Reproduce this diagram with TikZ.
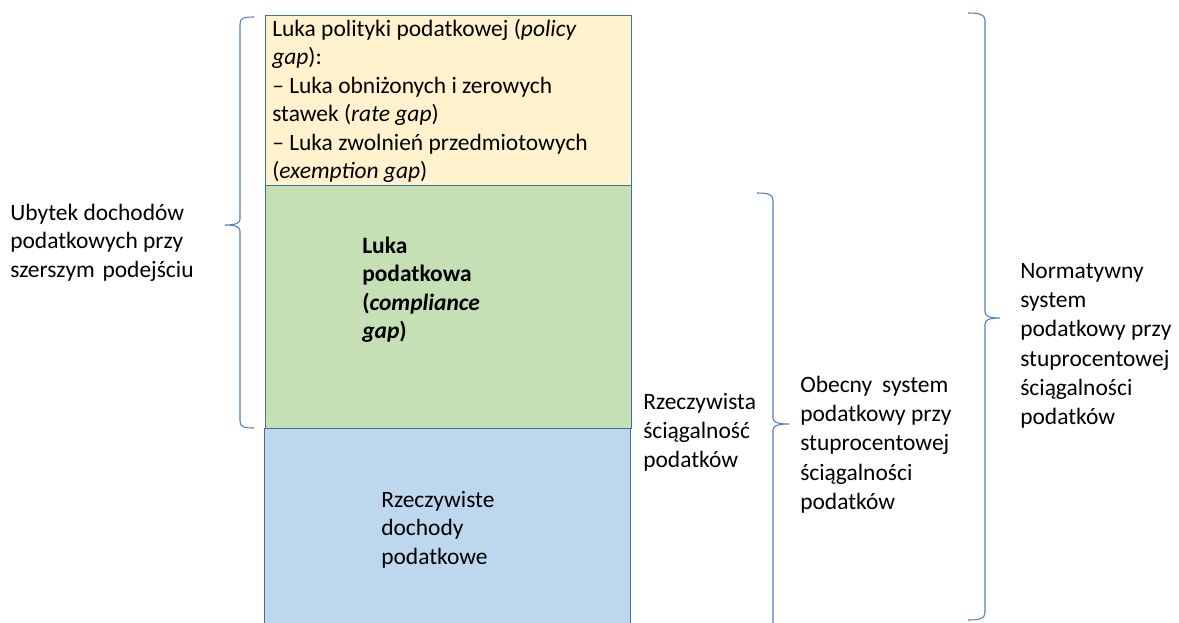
\documentclass[tikz,border=0pt]{standalone}
\usepackage{fontspec}
\setmainfont{Carlito}
\definecolor{ylw}{RGB}{255,242,204}
\definecolor{grn}{RGB}{197,224,180}
\definecolor{blu}{RGB}{189,215,238}
\definecolor{edge}{RGB}{65,113,156}
\definecolor{brc}{RGB}{82,125,200}
\newcommand{\topstrut}{\rule{0pt}{15pt}}
\begin{document}
\begin{tikzpicture}[x=0.75pt,y=-0.75pt,
  box/.style={draw=edge,line width=0.8pt,anchor=north west,inner sep=0pt,minimum width=274.5pt},
  lbl/.style={anchor=north west,inner sep=0pt,align=left,font=\fontsize{17.6}{21.4}\selectfont},
  lblr/.style={lbl,font=\fontsize{17.6}{22}\selectfont},
  brace/.style={draw=brc,line width=0.8pt}]
\useasboundingbox (0,0) rectangle (1179,622);
\fill[white] (0,0) rectangle (1179,622);
% boxes
\node[box,fill=blu,minimum height=147pt] (real) at (264,428) {};
\node[box,fill=grn,minimum height=182.25pt] (comp) at (265,185) {};
\node[box,fill=ylw,minimum height=127.5pt] (policy) at (265,15) {};
% texts inside boxes
\node[lbl] (policytxt) at (272,16) {\topstrut Luka polityki podatkowej (\textit{policy}\\\textit{gap}):\\– Luka obniżonych i zerowych\\stawek (\textit{rate gap})\\– Luka zwolnień przedmiotowych\\(\textit{exemption gap})};
\node[lbl,font=\bfseries\fontsize{17.6}{21.3}\selectfont] (comptxt) at (362,233) {\topstrut Luka\\podatkowa\\(\textit{compliance}\\\textit{gap})};
\node[lbl] (realtxt) at (381,487) {\topstrut Rzeczywiste\\dochody\\podatkowe};
% side texts
\node[lbl] (ubytek) at (10,200) {\topstrut Ubytek dochodów\\podatkowych przy\\szerszym\hspace{0.1em} podejściu};
\node[lblr] (rzecz) at (643,389) {\topstrut Rzeczywista\\ściągalność\\podatków};
\node[lblr] (obecny) at (800,372) {\topstrut Obecny\hspace{0.2em} system\\podatkowy przy\\stuprocentowej\\ściągalności\\podatków};
\node[lblr] (norm) at (1020,258) {\topstrut Normatywny\\system\\podatkowy przy\\stuprocentowej\\ściągalności\\podatków};
% left brace
\coordinate (lt) at (254,17);
\coordinate (ltip) at (225,225);
\coordinate (lb) at (254,428);
\draw[brace] (lt) .. controls (244,17) and (240,18) .. (240,24) -- (240,219)
  .. controls (240,223) and (236,225) .. (ltip)
  .. controls (236,225) and (240,227) .. (240,231) -- (240,421)
  .. controls (240,427) and (244,428) .. (lb);
% middle brace
\coordinate (mt) at (757,193);
\coordinate (mtip) at (789,424);
\coordinate (mb) at (773,623);
\draw[brace] (mt) .. controls (767,193) and (773,194) .. (773,200) -- (773,418)
  .. controls (773,422) and (777,424) .. (mtip)
  .. controls (777,424) and (773,426) .. (773,430) -- (mb);
% right brace
\coordinate (rt) at (968,13);
\coordinate (rtip) at (1000,318);
\coordinate (rb) at (968,620);
\draw[brace] (rt) .. controls (978,13) and (985,14) .. (985,20) -- (985,312)
  .. controls (985,316) and (989,318) .. (rtip)
  .. controls (989,318) and (985,320) .. (985,324) -- (985,613)
  .. controls (985,619) and (978,620) .. (rb);
\end{tikzpicture}
\end{document}
